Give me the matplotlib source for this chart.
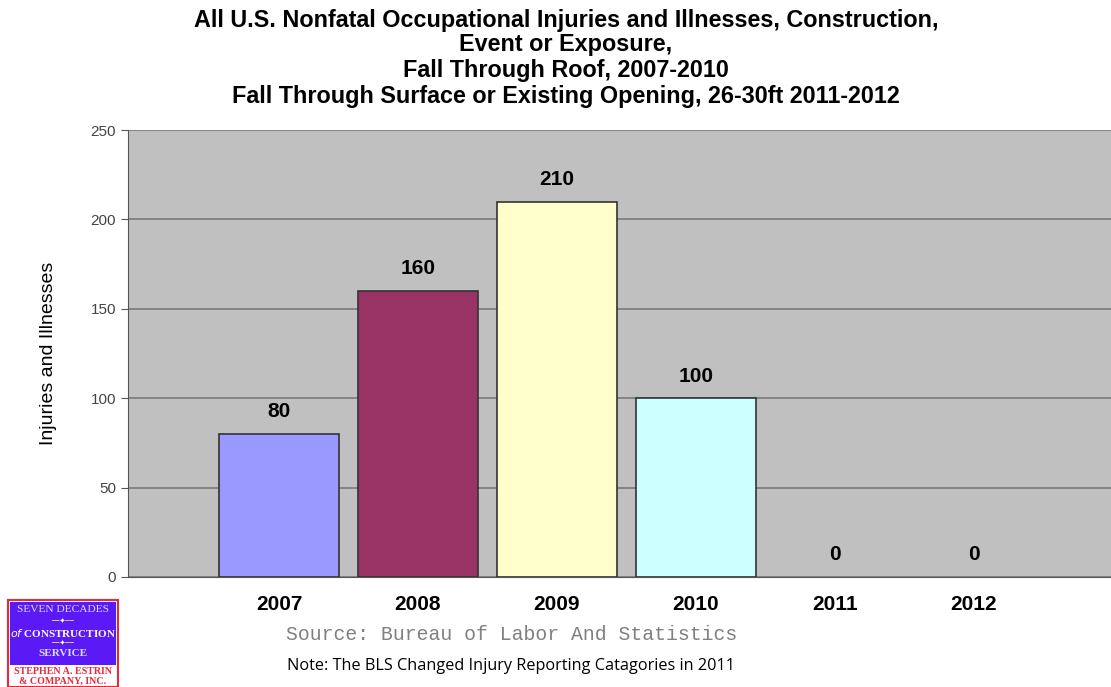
import matplotlib.pyplot as plt
from matplotlib.patches import Rectangle

years = ["2007", "2008", "2009", "2010", "2011", "2012"]
injuries = [80, 160, 210, 100, 0, 0]
bar_colors = ["#9999ff", "#993366", "#ffffcc", "#ccffff", "#c0c0c0", "#c0c0c0"]
y_ticks = [0, 50, 100, 150, 200, 250]

title_lines = [
    "All U.S. Nonfatal Occupational Injuries and Illnesses, Construction,",
    "Event or Exposure,",
    "Fall Through Roof, 2007-2010",
    "Fall Through Surface or Existing Opening, 26-30ft 2011-2012",
]

W, H = 1111, 687
fig = plt.figure(figsize=(W / 100, H / 100), dpi=100)
plt.rcParams["font.family"] = ["Liberation Sans", "DejaVu Sans"]

# plot area in pixels: x 128..1111, y 130..577
ax = fig.add_axes([128 / W, 1 - 577 / H, (W - 128) / W, (577 - 130) / H])
ax.set_facecolor("#c0c0c0")

xs = list(range(len(years)))
edge_widths = [1.2 if v > 0 else 0 for v in injuries]
ax.bar(xs, injuries, width=0.863, color=bar_colors, edgecolor="#333333",
       linewidth=edge_widths, zorder=3)
for x, v in zip(xs, injuries):
    ax.annotate(str(v), (x, v), xytext=(0, 9), textcoords="offset points",
                ha="center", va="bottom", fontsize=15, fontweight="bold", zorder=4)

ax.set_xlim(-1.086, 5.986)
ax.set_ylim(0, 250)
ax.set_yticks(y_ticks)
ax.set_yticklabels([str(t) for t in y_ticks], fontsize=11, color="#444444")
ax.yaxis.grid(True, color="#7a7a7a", linewidth=1.2, zorder=1)
ax.set_xticks(xs)
ax.set_xticklabels(years, fontsize=15, fontweight="bold")
ax.tick_params(axis="x", length=0, pad=13)
ax.tick_params(axis="y", length=5, color="#555555", direction="out")
for side in ["top", "right"]:
    ax.spines[side].set_visible(False)
ax.spines["left"].set_color("#555555")
ax.spines["bottom"].set_color("#555555")
ax.set_ylabel("Injuries and Illnesses", fontsize=14, labelpad=24)

title_y = [20, 45, 70, 96]
for line, y in zip(title_lines, title_y):
    fig.text(566 / W, 1 - y / H, line, ha="center", va="center",
             fontsize=16.8, fontweight="bold")

fig.text(512 / W, 1 - 635 / H, "Source: Bureau of Labor And Statistics",
         ha="center", va="center", fontsize=14.2, color="#808080",
         family="Liberation Mono")
fig.text(511 / W, 1 - 666 / H, "Note: The BLS Changed Injury Reporting Catagories in 2011",
         ha="center", va="center", fontsize=11.7, family=["Open Sans", "DejaVu Sans"])

# logo block in the lower left corner
lx0, lx1, ly0, lyb, ly1 = 8, 118, 600, 665, 687
fig.patches.append(Rectangle((lx0 / W, 1 - ly1 / H), (lx1 - lx0) / W, (ly1 - ly0) / H,
                             transform=fig.transFigure, facecolor="white",
                             edgecolor="#e8283c", linewidth=1.5))
fig.patches.append(Rectangle(((lx0 + 2) / W, 1 - lyb / H), (lx1 - lx0 - 4) / W, (lyb - ly0 - 2) / H,
                             transform=fig.transFigure, facecolor="#5a19f5",
                             edgecolor="none"))
cx = (lx0 + lx1) / 2 / W
logo_font = "Liberation Serif"
fig.text(cx, 1 - 609 / H, "SEVEN DECADES", ha="center", va="center", color="#dcdcff",
         fontsize=8.2, family=logo_font)
fig.text(cx, 1 - 621 / H, "\u2500\u2500\u2726\u2500\u2500", ha="center", va="center", color="white",
         fontsize=5, family="DejaVu Sans")
fig.text(cx, 1 - 633 / H, r"$\mathit{of}$ CONSTRUCTION", ha="center", va="center", color="white",
         fontsize=8.0, family=logo_font, fontweight="bold")
fig.text(cx, 1 - 643 / H, "\u2500\u2500\u2726\u2500\u2500", ha="center", va="center", color="white",
         fontsize=5, family="DejaVu Sans")
fig.text(cx, 1 - 654 / H, "SERVICE", ha="center", va="center", color="#dcdcff",
         fontsize=8.0, family=logo_font, fontweight="bold")
fig.text(cx, 1 - 671 / H, "STEPHEN A. ESTRIN", ha="center", va="center", color="#e8283c",
         fontsize=7.2, family=logo_font, fontweight="bold")
fig.text(cx, 1 - 681 / H, "& COMPANY, INC.", ha="center", va="center", color="#e8283c",
         fontsize=7.2, family=logo_font, fontweight="bold")

fig.savefig("out.png", dpi=100)
